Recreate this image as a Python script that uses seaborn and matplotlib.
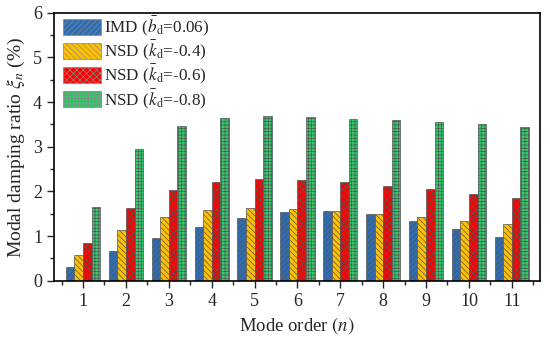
import numpy as np
import pandas as pd
import matplotlib
matplotlib.use("Agg")
import matplotlib.pyplot as plt
import seaborn as sns
from matplotlib.ticker import MultipleLocator, FixedLocator

modos = [str(i) for i in range(1, 12)]
imd_b006 = [0.30, 0.66, 0.95, 1.21, 1.41, 1.54, 1.56, 1.49, 1.34, 1.16, 0.98]
nsd_k04 = [0.57, 1.13, 1.43, 1.58, 1.63, 1.61, 1.56, 1.49, 1.42, 1.34, 1.27]
nsd_k06 = [0.84, 1.62, 2.03, 2.21, 2.28, 2.26, 2.21, 2.13, 2.05, 1.95, 1.86]
nsd_k08 = [1.66, 2.95, 3.47, 3.65, 3.68, 3.66, 3.62, 3.59, 3.55, 3.50, 3.44]

rotulos = [r"IMD ($\bar{b}_\mathrm{d}$=0.06)",
           r"NSD ($\bar{k}_\mathrm{d}$=-0.4)",
           r"NSD ($\bar{k}_\mathrm{d}$=-0.6)",
           r"NSD ($\bar{k}_\mathrm{d}$=-0.8)"]
cores = ["#2f6db3", "#ffc000", "#ff0000", "#2fcc6a"]
hachuras = ["//////", "\\\\\\\\\\\\", "xxxxx", "+++++"]

sns.set_style("ticks")
plt.rcParams["font.family"] = ["Liberation Serif", "DejaVu Serif"]
plt.rcParams["mathtext.fontset"] = "stix"
plt.rcParams["hatch.linewidth"] = 0.5
plt.rcParams["hatch.color"] = "#333333"

dados = pd.DataFrame({
    "modo": modos * 4,
    "valor": imd_b006 + nsd_k04 + nsd_k06 + nsd_k08,
    "serie": np.repeat(rotulos, len(modos)),
})

fig = plt.figure(figsize=(5.5, 3.45), dpi=100)
ax = fig.add_axes([0.098, 0.186, 0.884, 0.777])

sns.barplot(data=dados, x="modo", y="valor", hue="serie", hue_order=rotulos,
            palette=cores, width=0.8, saturation=1, ax=ax, legend=False,
            edgecolor="#555555", linewidth=0.5)

for cont, h in zip(ax.containers, hachuras):
    for barra in cont:
        barra.set_hatch(h)

handles = [matplotlib.patches.Patch(facecolor=c, edgecolor="#888888", hatch=h, linewidth=0.5)
           for c, h in zip(cores, hachuras)]
ax.legend(handles, rotulos, loc="upper left", frameon=False, fontsize=12.3,
          handlelength=2.2, handleheight=1.05, labelspacing=0.05,
          handletextpad=0.2, borderaxespad=0.0, bbox_to_anchor=(0.005, 1.018))

ax.set_ylim(0, 6)
ax.set_xlim(-0.68, 10.66)
ax.yaxis.set_major_locator(MultipleLocator(1))
ax.yaxis.set_minor_locator(MultipleLocator(0.5))
ax.xaxis.set_minor_locator(FixedLocator(np.arange(-0.5, 11, 1.0)))
ax.tick_params(which="major", direction="out", length=5, width=1, labelsize=13)
ax.tick_params(which="minor", direction="out", length=3, width=1)
for s in ax.spines.values():
    s.set_visible(True)
    s.set_linewidth(1.2)
    s.set_color("black")

ax.set_xlabel(r"Mode order $(n)$", fontsize=13.5)
ax.set_ylabel(r"Modal damping ratio $\xi_n$ (%)", fontsize=14)

fig.savefig("out.png", dpi=100)
